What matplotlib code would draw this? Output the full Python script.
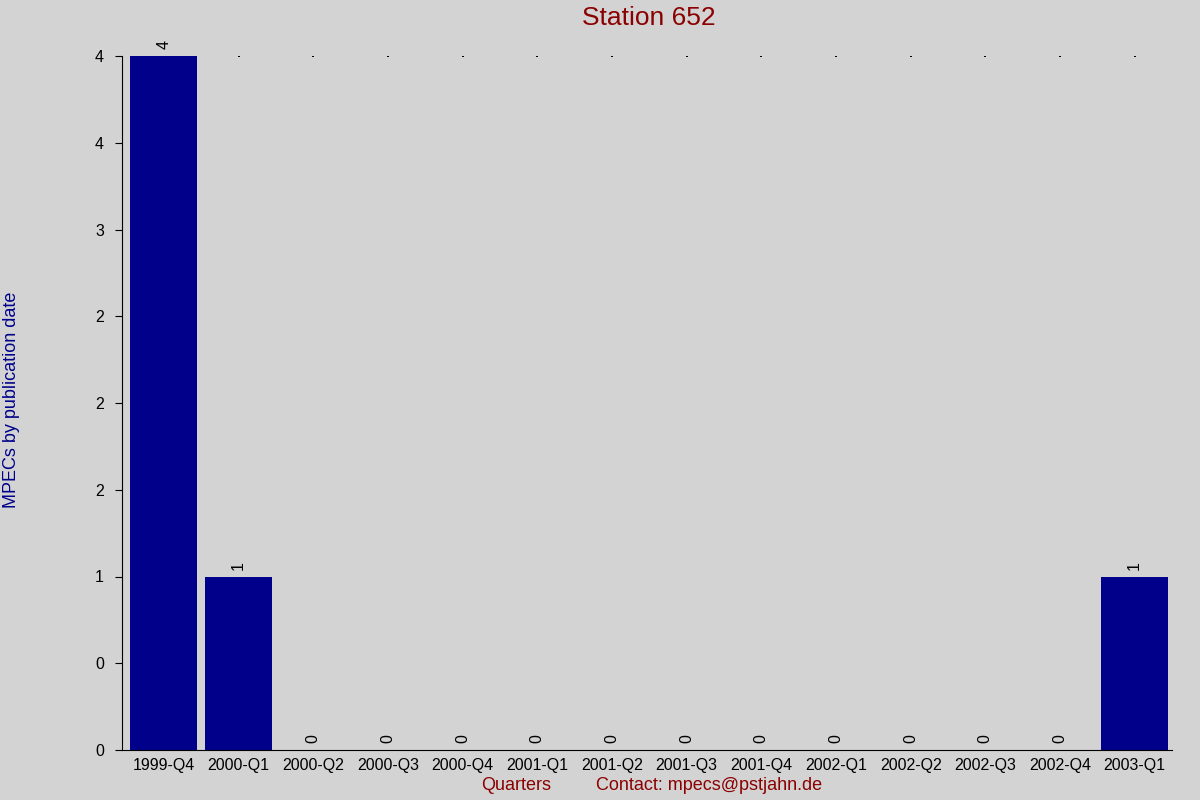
import matplotlib
matplotlib.use('Agg')
import matplotlib.pyplot as plt
import numpy as np

plt.rcParams['font.family'] = ['Liberation Sans', 'DejaVu Sans']

# ---- data
quarters = ['1999-Q4', '2000-Q1', '2000-Q2', '2000-Q3', '2000-Q4', '2001-Q1', '2001-Q2',
            '2001-Q3', '2001-Q4', '2002-Q1', '2002-Q2', '2002-Q3', '2002-Q4', '2003-Q1']
counts = [4, 1, 0, 0, 0, 0, 0, 0, 0, 0, 0, 0, 0, 1]

bg = '#d3d3d3'
bar_col = '#00008b'
red = '#8b0000'

fig = plt.figure(figsize=(12, 8), dpi=100, facecolor=bg)
ax = fig.add_axes([0.1017, 0.0625, 0.875, 0.8675])
ax.set_facecolor(bg)

x = np.arange(len(quarters))
ymax = max(counts)
ax.bar(x, counts, width=0.9, color=bar_col, zorder=2)
# tiny marker dots along the top
ax.scatter(x, [ymax] * len(x), s=1.5, marker='s', color='black', linewidths=0, zorder=1)

for xi, c in zip(x, counts):
    ax.text(xi, c + 0.04, str(c), rotation=90, ha='center', va='bottom', fontsize=11.5, color='black')

ax.set_xlim(-0.56, len(quarters) - 0.5)
ax.set_ylim(0, ymax)
yt = np.arange(0, ymax + 0.01, 0.5)
ax.set_yticks(yt)
ax.set_yticklabels(['{:.0f}'.format(v) for v in yt], fontsize=11.5)
ax.set_xticks(x)
ax.set_xticklabels(quarters, fontsize=11.5)
ax.tick_params(axis='x', length=0, pad=6)
ax.tick_params(axis='y', length=5, pad=8)

for s in ['top', 'right']:
    ax.spines[s].set_visible(False)

fig.text(0.541, 0.977, 'Station 652', ha='center', va='center', fontsize=19, color=red)
fig.text(0.0095, 0.5, 'MPECs by publication date', rotation=90, ha='center', va='center',
         fontsize=13, color=bar_col)
fig.text(0.43, 0.0175, 'Quarters', ha='center', va='center', fontsize=13, color=red)
fig.text(0.591, 0.0175, 'Contact: mpecs@pstjahn.de', ha='center', va='center', fontsize=13, color=red)

fig.savefig('out.png', dpi=100, facecolor=bg)
